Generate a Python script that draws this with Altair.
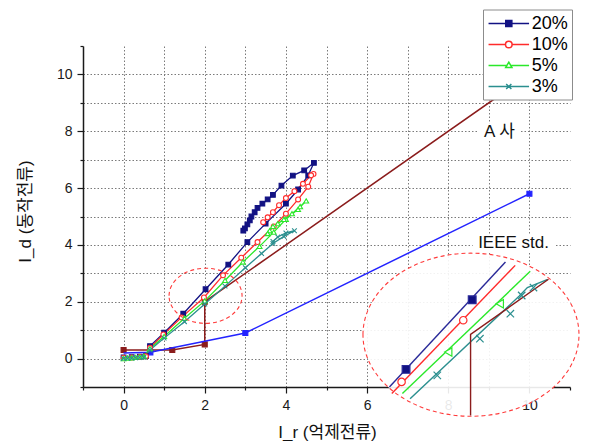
import altair as alt
import pandas as pd

# ---------------- data ----------------
series_names = ["20%", "10%", "5%", "3%"]
series_colors = ["#121283", "#ff2b2b", "#2ae82a", "#2b8f8f"]
legend_fills = ["#121283", "white", "white", "white"]

s20_x = [0.0, 0.2, 0.4, 0.55, 0.65, 1.0, 1.47, 2.02, 2.58, 3.05, 3.5, 4.0, 4.3, 4.55, 4.69,
         4.45, 4.17, 3.89, 3.68, 3.55, 3.42, 3.3, 3.23, 3.15, 3.11, 3.05, 2.99, 2.95]
s20_y = [0.04, 0.05, 0.07, 0.09, 0.44, 0.91, 1.58, 2.44, 3.31, 4.1, 4.75, 5.45, 5.95, 6.45, 6.89,
         6.62, 6.44, 6.09, 5.76, 5.6, 5.45, 5.3, 5.15, 5.0, 4.86, 4.72, 4.58, 4.5]

s10_x = [0.0, 0.2, 0.4, 0.55, 0.65, 0.98, 1.43, 1.98, 2.45, 2.9, 3.3, 3.7, 4.0, 4.3, 4.55, 4.68,
         4.62, 4.42, 4.21, 4.0, 3.83, 3.68, 3.55, 3.44]
s10_y = [0.03, 0.04, 0.06, 0.08, 0.38, 0.85, 1.45, 2.15, 2.93, 3.55, 4.1, 4.65, 5.1, 5.6, 6.05, 6.5,
         6.45, 6.15, 5.89, 5.65, 5.4, 5.15, 4.97, 4.8]

s5_x = [0.0, 0.1, 0.2, 0.3, 0.4, 0.5, 0.65, 1.0, 1.5, 2.0, 2.5, 2.94, 3.35, 3.7, 4.0, 4.3, 4.5,
        4.35, 4.15, 3.95, 3.8, 3.68, 3.6, 3.55]
s5_y = [0.0, 0.02, 0.03, 0.04, 0.06, 0.08, 0.35, 0.78, 1.42, 2.03, 2.75, 3.4, 3.95, 4.45, 4.9, 5.25, 5.55,
        5.35, 5.1, 4.9, 4.75, 4.65, 4.5, 4.4]

s3_x = [0.0, 0.1, 0.2, 0.3, 0.4, 0.5, 0.65, 1.0, 1.5, 2.0, 2.5, 3.0, 3.4, 3.68, 3.95, 4.21,
        4.0, 3.8, 3.68]
s3_y = [0.0, 0.01, 0.02, 0.03, 0.04, 0.05, 0.3, 0.72, 1.3, 1.92, 2.55, 3.2, 3.7, 4.05, 4.3, 4.5,
        4.42, 4.28, 4.12]

# reference curves
a_x = [0.0, 1.2, 2.0, 2.0, 10.6]
a_y = [0.3, 0.3, 0.5, 2.0, 10.6]
a_mx = [0.0, 1.2, 2.0, 2.0]
a_my = [0.3, 0.3, 0.5, 2.0]

ieee_x = [0.0, 0.66, 3.0, 10.0]
ieee_y = [0.2, 0.22, 0.9, 5.8]
ieee_mx = [0.66, 3.0, 10.0]
ieee_my = [0.22, 0.9, 5.8]

# inset (magnified view)
in20_x = [6.55, 9.41]
in20_y = [-1.0, 3.4]
in20_mx = [6.96, 8.59]
in20_my = [-0.38, 2.07]
in10_x = [6.61, 9.65]
in10_y = [-1.23, 3.28]
in10_mx = [6.85, 8.37]
in10_my = [-0.82, 1.35]
in5_x = [6.87, 10.02]
in5_y = [-1.23, 3.07]
in5_mx = [8.0, 9.27]
in5_my = [0.23, 1.93]
in3_x = [7.06, 9.75, 9.95, 10.45]
in3_y = [-1.41, 2.2, 2.5, 2.79]
in3_mx = [7.73, 8.78, 9.53, 9.81, 10.1]
in3_my = [-0.59, 0.7, 1.58, 2.22, 2.5]
inA_x = [8.55, 8.55, 10.47]
inA_y = [-2.0, 0.85, 2.79]

ell_x = [2.02, 8.56]
ell_y = [2.21, 0.84]

ann_text = ["A 사", "IEEE std."]
ann_x = [9.26, 9.61]
ann_y = [7.99, 4.06]

# ---------------- styling ----------------
FONT = "Liberation Sans, Noto Sans CJK KR, sans-serif"
BROWN = "#8b1c1c"
BLUE = "#2323ff"
GRID = "#7a7a7a"

XPATH = "M -1 -1 L 1 1 M -1 1 L 1 -1"
ELLIPSE = "M -1 0 A 1 0.755 0 1 1 1 0 A 1 0.755 0 1 1 -1 0 Z"
legend_paths = [
    "M -2.2 0 H 2.2 M -0.33 -0.33 H 0.33 V 0.33 H -0.33 Z",
    "M -2.2 0 H -0.36 M 0.36 0 H 2.2 M -0.36 0 A 0.36 0.36 0 1 1 0.36 0 A 0.36 0.36 0 1 1 -0.36 0 Z",
    "M -2.2 0 H -0.2 M 0.2 0 H 2.2 M 0 -0.36 L 0.34 0.22 L -0.34 0.22 Z",
    "M -2.2 0 H 2.2 M -0.28 -0.28 L 0.28 0.28 M -0.28 0.28 L 0.28 -0.28",
]

major = "datum.value % 2 == 0 && datum.value >= 0 && datum.value <= 10"
common_axis = dict(
    values=list(range(-1, 12)),
    labelExpr="(" + major + ") ? datum.label : ''",
    tickSize={"condition": {"test": major, "value": 6}, "value": 3},
    gridOpacity={"condition": {"test": "datum.value == -1 || datum.value == 11", "value": 0}, "value": 1},
    grid=True, gridColor=GRID, gridDash=[1.5, 2], gridWidth=1,
    domainColor="#1a1a1a", domainWidth=1.5, tickColor="#1a1a1a", tickWidth=1.2,
    labelFontSize=14, labelFont=FONT, labelColor="#1a1a1a", labelPadding=5,
    labelOverlap=False, titleFont=FONT, titleFontSize=17, titleColor="#111",
    titleFontWeight="normal", titleAlign="center", titleBaseline="middle",
)
xaxis = alt.Axis(titleX=244, titleY=45, titleAngle=0, **common_axis)
yaxis = alt.Axis(titleX=-58, titleY=165, titleAngle=270, **common_axis)
xscale = alt.Scale(domain=[-1, 11], nice=False, zero=False)
yscale = alt.Scale(domain=[-1, 11], nice=False, zero=False)
X = alt.X("x:Q", scale=xscale, axis=xaxis, title="I_r (억제전류)")
Y = alt.Y("y:Q", scale=yscale, axis=yaxis, title="I_d (동작전류)")


def df_xy(xs, ys, **extra):
    d = pd.DataFrame({"x": xs, "y": ys, "order": list(range(len(xs)))})
    for k, v in extra.items():
        d[k] = v
    return d


def line(xs, ys, color, width=1.3):
    return alt.Chart(df_xy(xs, ys)).mark_line(color=color, strokeWidth=width).encode(
        x=X, y=Y, order="order:Q")


def pts(xs, ys, shape, color, size, fill=None, sw=1.1):
    kw = dict(shape=shape, size=size, stroke=color, strokeWidth=sw, opacity=1)
    if fill is None:
        kw.update(filled=False)
    else:
        kw.update(filled=True, fill=fill)
    return alt.Chart(df_xy(xs, ys)).mark_point(**kw).encode(x=X, y=Y)


layers = []
# A-company and IEEE reference curves
layers.append(line(a_x, a_y, BROWN, 1.5))
layers.append(pts(a_mx, a_my, "square", BROWN, 25, fill=BROWN))
layers.append(line(ieee_x, ieee_y, BLUE, 1.5))
layers.append(pts(ieee_mx, ieee_my, "square", BLUE, 25, fill=BLUE))

# measured series
series_xy = [(s20_x, s20_y), (s10_x, s10_y), (s5_x, s5_y), (s3_x, s3_y)]
shapes = ["square", "circle", "triangle-up", XPATH]
fills = [series_colors[0], "white", "white", None]
sizes = [22, 24, 24, 22]
for (xs, ys), col, shp, fl, sz in zip(series_xy, series_colors, shapes, fills, sizes):
    layers.append(line(xs, ys, col, 1.3))
for (xs, ys), col, shp, fl, sz in zip(series_xy, series_colors, shapes, fills, sizes):
    layers.append(pts(xs, ys, shp, col, sz, fill=fl))

# ellipses
layers.append(alt.Chart(df_xy(ell_x[:1], ell_y[:1])).mark_point(
    shape=ELLIPSE, size=5329, filled=False, stroke="#ff3a3a", strokeWidth=1.1,
    strokeDash=[4, 3], opacity=1).encode(x=X, y=Y))
layers.append(alt.Chart(df_xy(ell_x[1:], ell_y[1:])).mark_point(
    shape=ELLIPSE, size=46656, filled=True, fill="white", fillOpacity=0.9,
    stroke="#ff3a3a", strokeWidth=1.1, strokeDash=[4, 3], opacity=1).encode(x=X, y=Y))

# inset lines
inset = [(in20_x, in20_y, in20_mx, in20_my, "#2a2a99", "square", series_colors[0], 60),
         (in10_x, in10_y, in10_mx, in10_my, series_colors[1], "circle", "white", 55),
         (in5_x, in5_y, in5_mx, in5_my, series_colors[2], "triangle-left", "white", 70),
         (in3_x, in3_y, in3_mx, in3_my, series_colors[3], XPATH, None, 55)]
for lx, ly, mx, my, col, shp, fl, sz in inset:
    layers.append(line(lx, ly, col, 1.4))
layers.append(line(inA_x, inA_y, BROWN, 1.4))
for lx, ly, mx, my, col, shp, fl, sz in inset:
    layers.append(pts(mx, my, shp, col, sz, fill=fl, sw=1.2))

# annotation labels with white background
ann_df = pd.DataFrame({"x": ann_x, "y": ann_y, "t": ann_text})
layers.append(alt.Chart(ann_df.iloc[:1]).mark_point(
    shape="M -1 -0.4 H 1 V 0.4 H -1 Z", size=1700, filled=True, fill="white",
    strokeWidth=0, opacity=1).encode(x=X, y=Y))
layers.append(alt.Chart(ann_df.iloc[1:]).mark_point(
    shape="M -1 -0.2 H 1 V 0.2 H -1 Z", size=6700, filled=True, fill="white",
    strokeWidth=0, opacity=1).encode(x=X, y=Y))
layers.append(alt.Chart(ann_df).mark_text(font=FONT, fontSize=17, color="#111").encode(
    x=X, y=Y, text="t:N"))

# legend layer (no marks, only the legend)
leg = alt.Legend(title=None, orient="none", legendX=400, legendY=-36.5, padding=4,
                 fillColor="white", strokeColor="#8c8c8c", symbolSize=339,
                 symbolStrokeWidth=1.5, symbolOffset=11.8, labelOffset=13,
                 labelFontSize=18, labelFont=FONT, labelColor="black", rowPadding=2,
                 labelLimit=0)
legend_df = pd.DataFrame({"x": [0.0] * 4, "y": [0.0] * 4, "series": series_names})
layers.append(alt.Chart(legend_df).transform_filter("false").mark_point(
    filled=False, opacity=1, strokeWidth=1.5).encode(
    x=X, y=Y,
    shape=alt.Shape("series:N", scale=alt.Scale(domain=series_names, range=legend_paths), legend=leg),
    stroke=alt.Stroke("series:N", scale=alt.Scale(domain=series_names, range=series_colors), legend=leg),
    fill=alt.Fill("series:N", scale=alt.Scale(domain=series_names, range=legend_fills), legend=leg),
))

chart = alt.layer(*layers).properties(
    width=487, height=341,
    autosize=alt.AutoSizeParams(type="none"),
    padding={"left": 75, "top": 38, "right": 10, "bottom": 54},
    background="white",
).configure(font=FONT).configure_view(stroke=None)

chart.save("out.html", embed_options={"renderer": "svg", "actions": False})
